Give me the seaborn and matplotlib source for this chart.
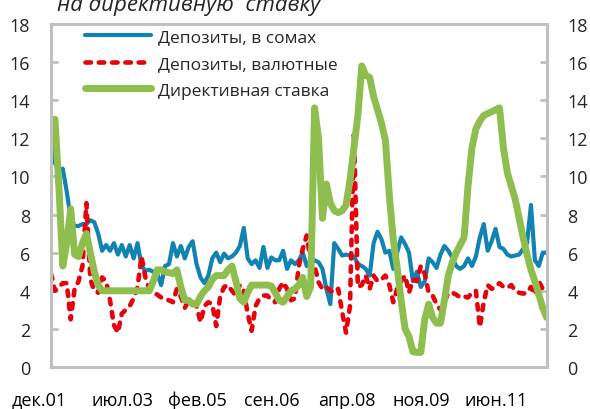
import numpy as np
import pandas as pd
import matplotlib
matplotlib.use("Agg")
import matplotlib.pyplot as plt
import matplotlib.transforms as mtransforms
import seaborn as sns

# ---- data (monthly, Dec 2001 .. Jun 2012) ----
dep_som = [11.8, 10.7, 10.4, 10.4, 9.2, 7.8, 7.4, 7.4, 7.5, 7.5,
           7.7, 7.6, 7.0, 6.1, 6.4, 6.1, 6.5, 5.9, 6.4, 5.8,
           6.4, 5.7, 6.5, 5.3, 5.05, 5.1, 5.0, 4.9, 4.3, 5.3,
           5.4, 6.5, 5.8, 6.35, 5.7, 6.3, 6.6, 5.4, 4.7, 4.4,
           4.8, 5.7, 6.0, 5.5, 5.95, 5.7, 5.8, 6.0, 6.35, 7.3,
           5.7, 5.4, 5.6, 5.2, 6.3, 5.2, 5.75, 5.6, 5.6, 6.1,
           5.15, 5.6, 5.4, 5.6, 6.0, 5.3, 5.6, 5.6, 5.5, 5.15,
           4.1, 3.3, 6.5, 6.2, 5.85, 5.9, 5.85, 5.8, 5.4, 5.3,
           5.15, 4.8, 6.5, 7.1, 6.7, 6.0, 6.1, 5.15, 6.0, 6.8,
           6.45, 6.0, 4.5, 5.0, 4.2, 4.5, 5.7, 5.5, 5.2, 5.9,
           6.35, 6.1, 5.75, 5.3, 5.15, 5.3, 5.7, 5.3, 5.8, 6.8,
           7.5, 6.1, 6.6, 7.25, 6.3, 6.2, 5.9, 5.8, 5.85, 5.9,
           6.2, 6.5, 8.5, 5.6, 5.3, 6.0, 6.0]

dep_fx = [4.9, 4.0, 4.2, 4.4, 4.4, 2.5, 4.1, 4.5, 5.3, 8.6,
          4.6, 4.0, 3.9, 4.7, 4.5, 3.5, 2.2, 1.8, 2.8, 3.0,
          3.2, 3.6, 4.2, 5.8, 4.7, 4.1, 3.9, 3.8, 3.65, 3.55,
          3.5, 3.4, 4.1, 3.7, 3.1, 3.5, 3.4, 3.2, 2.35, 3.2,
          3.4, 3.3, 2.15, 3.7, 4.2, 4.3, 4.0, 3.75, 4.3, 4.0,
          2.8, 1.9, 3.2, 3.6, 3.75, 3.75, 3.5, 3.4, 4.1, 4.45,
          4.1, 3.5, 3.6, 5.3, 6.2, 6.9, 5.6, 5.3, 4.45, 4.1,
          4.2, 4.0, 3.9, 4.1, 2.9, 1.8, 3.2, 12.2, 4.2, 4.3,
          4.8, 4.1, 4.8, 4.5, 4.6, 4.8, 4.3, 3.4, 4.1, 4.5,
          4.8, 3.9, 4.6, 4.5, 5.3, 4.9, 3.9, 3.75, 3.3, 3.0,
          3.4, 3.9, 3.9, 3.8, 3.65, 3.7, 3.65, 3.9, 4.0, 2.1,
          3.4, 4.3, 4.1, 4.2, 4.4, 4.2, 4.15, 4.3, 4.0, 3.9,
          3.85, 3.9, 4.2, 3.8, 4.5, 4.1, 4.3]

policy = [12.2, 13.0, 9.5, 5.3, 6.5, 8.3, 5.9, 5.8, 6.5, 7.0,
          6.0, 5.0, 4.3, 4.0, 4.0, 4.0, 4.0, 4.0, 4.0, 4.0,
          4.0, 4.0, 4.0, 4.0, 4.0, 4.0, 4.5, 5.1, 5.1, 5.0,
          4.95, 4.9, 5.1, 4.2, 3.5, 3.5, 3.3, 3.3, 3.7, 4.0,
          4.2, 4.6, 4.8, 4.8, 4.8, 5.1, 5.3, 4.5, 3.6, 3.4,
          3.9, 4.3, 4.3, 4.3, 4.3, 4.3, 4.25, 3.9, 3.5, 3.4,
          3.7, 4.0, 4.1, 4.3, 4.7, 3.7, 4.2, 13.6, 12.0, 7.8,
          9.6, 8.6, 8.2, 8.1, 8.2, 8.5, 9.8, 11.5, 13.2, 15.8,
          15.3, 15.2, 14.2, 13.5, 12.8, 11.9, 9.0, 6.7, 5.2, 3.5,
          2.0, 1.6, 0.8, 0.77, 0.77, 2.5, 3.3, 2.6, 2.3, 2.3,
          3.5, 4.8, 5.5, 6.0, 6.4, 6.8, 9.5, 11.5, 12.5, 12.9,
          13.2, 13.3, 13.4, 13.5, 13.6, 11.5, 10.2, 9.5, 8.8, 7.8,
          6.8, 5.9, 5.1, 4.5, 3.8, 3.1, 2.6]

series_names = ["Депозиты, в сомах", "Депозиты, валютные", "Директивная ставка"]
x_labels = ["дек.01", "июл.03", "фев.05", "сен.06", "апр.08", "ноя.09", "июн.11"]
label_step = 19
tick_step = 18
title_text = "на директивную  ставку"

# ---- styling ----
sns.set_theme(style="white")
plt.rcParams["font.family"] = ["Open Sans", "DejaVu Sans"]

blue = "#1183B3"
red = "#E8000B"
green = "#8DBE4E"
frame = "#C0C0C0"

n = len(policy)
df = pd.DataFrame({
    "month": np.arange(n),
    "som": dep_som,
    "fx": dep_fx,
    "policy": policy,
})

fig = plt.figure(figsize=(5.9, 4.1), dpi=100)
ax = fig.add_axes([51 / 590, 1 - 368 / 410, (546.7 - 51) / 590, (368 - 25) / 410])

sns.lineplot(data=df, x="month", y="som", ax=ax, color=blue, lw=3.0,
             label=series_names[0], solid_capstyle="round", solid_joinstyle="round")
sns.lineplot(data=df, x="month", y="fx", ax=ax, color=red, lw=3.3,
             label=series_names[1])
ax.lines[-1].set_dashes((1.2, 1.7))
ax.lines[-1].set_dash_capstyle("round")
sns.lineplot(data=df, x="month", y="policy", ax=ax, color=green, lw=5.0,
             label=series_names[2], solid_capstyle="round", solid_joinstyle="round")

ax.set_xlim(0, n - 1)
ax.set_ylim(0, 18)
ax.set_xlabel("")
ax.set_ylabel("")

# tick marks every 18 months, labels every 19 months
ax.xaxis.remove_overlapping_locs = False
major_pos = np.arange(0, n, tick_step)
ax.set_xticks(major_pos)
ax.set_xticklabels([""] * len(major_pos))
ax.set_xticks(np.arange(0, label_step * len(x_labels), label_step), minor=True)
ax.set_xticklabels(x_labels, minor=True)
ax.tick_params(axis="x", which="major", direction="in", length=5, width=2, color=frame)
ax.tick_params(axis="x", which="minor", length=0, pad=17, labelsize=13, labelcolor="black")
for i, lab in enumerate(ax.get_xticklabels(minor=True)):
    dx = -12 if i == 0 else -3
    lab.set_transform(lab.get_transform() +
                      mtransforms.ScaledTranslation(dx / 100, 0, fig.dpi_scale_trans))

ax.set_yticks(np.arange(0, 19, 2))
ax.tick_params(axis="y", which="major", direction="in", length=5, width=2, color=frame,
               left=True, right=True, labelleft=True, labelright=True, labelsize=13,
               pad=15)

for sp in ax.spines.values():
    sp.set_visible(True)
    sp.set_color(frame)
    sp.set_linewidth(2.2)

leg = ax.legend(loc="upper left", bbox_to_anchor=(0.055, 1.005), frameon=False,
                fontsize=12.5, handlelength=3.8, handletextpad=0.4, labelspacing=0.6,
                borderaxespad=0)

fig.text(57 / 590, 1 - 11 / 410, title_text, fontsize=16, style="italic",
         ha="left", va="baseline")

fig.savefig("out.png", dpi=100)
